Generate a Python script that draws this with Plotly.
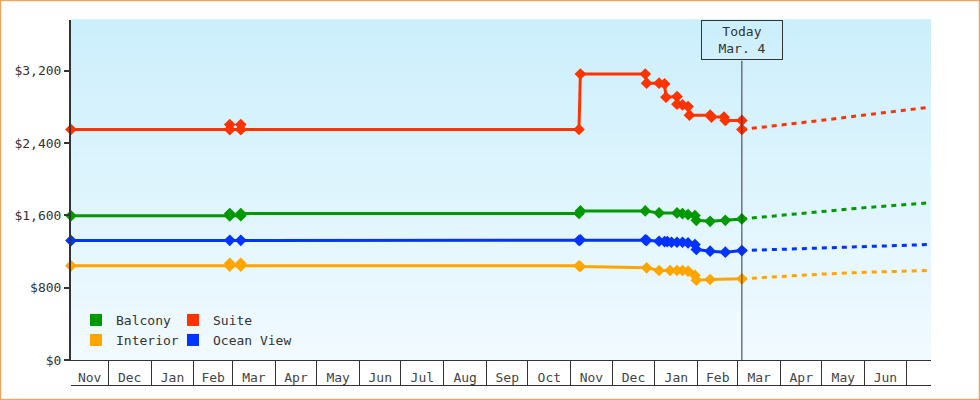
import plotly.graph_objects as go
import pandas as pd

# fares seen so far (a date repeats where the fare moved on that day)
suite_dates = ["2022-11-04", "2023-02-27", "2023-02-27", "2023-02-27", "2023-03-07", "2023-03-07", "2023-03-07",
               "2023-11-07", "2023-11-08", "2023-12-25", "2023-12-26", "2024-01-04", "2024-01-08", "2024-01-09",
               "2024-01-17", "2024-01-17", "2024-01-21", "2024-01-25", "2024-01-26", "2024-02-10", "2024-02-11",
               "2024-02-20", "2024-02-21", "2024-03-04", "2024-03-04"]
suite_prices = [2549, 2549, 2604, 2549, 2549, 2604, 2549,
                2549, 3163, 3163, 3061, 3061, 3053, 2906,
                2913, 2829, 2821, 2803, 2708, 2708, 2686,
                2686, 2649, 2649, 2549]

balcony_dates = ["2022-11-04", "2023-02-27", "2023-02-27", "2023-02-27", "2023-03-07", "2023-03-07",
                 "2023-11-07", "2023-11-08", "2023-12-25", "2024-01-04", "2024-01-17", "2024-01-21",
                 "2024-01-25", "2024-01-30", "2024-01-31", "2024-02-10", "2024-02-21", "2024-03-04"]
balcony_prices = [1595, 1595, 1620, 1595, 1595, 1620,
                  1620, 1649, 1649, 1626, 1626, 1619,
                  1608, 1597, 1545, 1534, 1545, 1560]

ocean_dates = ["2022-11-04", "2023-02-27", "2023-03-07", "2023-11-07", "2023-11-08", "2023-12-25", "2023-12-26",
               "2024-01-04", "2024-01-08", "2024-01-10", "2024-01-13", "2024-01-17", "2024-01-21", "2024-01-25",
               "2024-01-30", "2024-01-31", "2024-02-10", "2024-02-21", "2024-03-04"]
ocean_prices = [1321, 1324, 1324, 1324, 1329, 1329, 1324,
                1313, 1310, 1310, 1302, 1302, 1302, 1295,
                1277, 1222, 1203, 1192, 1210]

interior_dates = ["2022-11-04", "2023-02-27", "2023-02-27", "2023-02-27", "2023-03-07", "2023-03-07", "2023-03-07",
                  "2023-11-07", "2023-11-08", "2023-12-26", "2024-01-04", "2024-01-12", "2024-01-17", "2024-01-21",
                  "2024-01-25", "2024-01-30", "2024-01-31", "2024-02-10", "2024-03-04"]
interior_prices = [1041, 1041, 1070, 1041, 1041, 1070, 1041,
                   1041, 1034, 1019, 990, 990, 990, 990,
                   982, 935, 883, 890, 898]

# predicted fares from today on
forecast_dates = ["2024-03-04", "2024-04-01", "2024-05-01", "2024-06-01", "2024-07-17"]
suite_forecast = [2549, 2596, 2651, 2709, 2794]
balcony_forecast = [1560, 1600, 1640, 1685, 1737]
ocean_forecast = [1210, 1225, 1240, 1260, 1277]
interior_forecast = [898, 925, 950, 970, 990]

today = "2024-03-04"
today_label = "Today<br>Mar. 4"
x_start, x_end = pd.Timestamp("2022-11-04"), pd.Timestamp("2024-07-19")
price_ticks = [0, 800, 1600, 2400, 3200]
price_labels = ["$0", "$800", "$1,600", "$2,400", "$3,200"]

AXIS = "#333333"
FONT = "DejaVu Sans Mono"

series = [
    ("Interior", interior_dates, interior_prices, interior_forecast, "#ffa500"),
    ("Ocean View", ocean_dates, ocean_prices, ocean_forecast, "#0033ff"),
    ("Balcony", balcony_dates, balcony_prices, balcony_forecast, "#009900"),
    ("Suite", suite_dates, suite_prices, suite_forecast, "#ff3300"),
]
colors = {s[0]: s[4] for s in series}

fig = go.Figure()
for name, dates, prices, fc, color in series:
    fig.add_trace(go.Scatter(x=dates, y=prices, mode="lines+markers", name=name,
                             line=dict(color=color, width=3),
                             marker=dict(symbol="diamond", size=9, color=color),
                             cliponaxis=False, showlegend=False))
    fig.add_trace(go.Scatter(x=forecast_dates, y=fc, mode="lines", name=name + " forecast",
                             line=dict(color=color, width=3, dash="5px,5px"), showlegend=False))

# legend swatches: one small legend per entry, laid out in two rows
legend_slots = {"Balcony": ("legend", 5, 305), "Suite": ("legend2", 102, 305),
                "Interior": ("legend3", 5, 325), "Ocean View": ("legend4", 102, 325)}
legend_layout = {}
for name, (leg, lx, ly) in legend_slots.items():
    fig.add_trace(go.Scatter(x=[None], y=[None], mode="markers", name=name, legend=leg,
                             marker=dict(symbol="square", size=12, color=colors[name])))
    legend_layout[leg] = dict(x=lx / 860, y=(385 - ly) / 365, xanchor="left", yanchor="top",
                              bgcolor="rgba(0,0,0,0)", font=dict(size=13), itemwidth=30)

# month cells below the plot
month_starts = pd.date_range("2022-11-01", "2024-07-01", freq="MS")
label_months = month_starts[:-1]  # the July cell is too narrow for a label
label_pos = []
for m in label_months:
    a = max(m, x_start)
    b = min(m + pd.offsets.MonthBegin(1), x_end)
    label_pos.append(a + (b - a) / 2)
fig.add_trace(go.Scatter(x=[x_start], y=[None], xaxis="x2", showlegend=False, hoverinfo="skip"))

# soft vertical gradient behind the plot
top_c, bot_c = (204, 239, 252), (241, 250, 255)
n = 40
shapes = []
for i in range(n):
    t = i / (n - 1)
    c = tuple(round(bot_c[k] + (top_c[k] - bot_c[k]) * t) for k in range(3))
    shapes.append(dict(type="rect", xref="x domain", yref="y domain", x0=0, x1=1,
                       y0=i / n, y1=(i + 1) / n + 0.002, fillcolor="rgb(%d,%d,%d)" % c,
                       line=dict(width=0), layer="below"))
shapes.append(dict(type="line", xref="x", yref="y domain", x0=today, x1=today, y0=0, y1=0.88,
                   line=dict(color=AXIS, width=1)))
# outer frame
shapes.append(dict(type="rect", xref="paper", yref="paper",
                   x0=-70.5 / 860, x1=908.5 / 860, y0=-14.5 / 365, y1=384.5 / 365,
                   line=dict(color="#e8a864", width=1.5), fillcolor="rgba(0,0,0,0)", layer="below"))

fig.update_layout(
    width=980, height=400,
    margin=dict(l=71, r=49, t=20, b=15),
    paper_bgcolor="white", plot_bgcolor="rgba(0,0,0,0)",
    font=dict(family=FONT, size=13, color=AXIS),
    shapes=shapes,
    xaxis=dict(type="date", range=[x_start, x_end], showgrid=False, zeroline=False,
               showline=True, linecolor=AXIS, linewidth=1, automargin=False,
               ticks="outside", ticklen=25, tickwidth=1, tickcolor=AXIS,
               tickvals=list(month_starts[1:]), showticklabels=False),
    xaxis2=dict(type="date", overlaying="x", matches="x", anchor="free", position=0, side="bottom",
                showgrid=False, zeroline=False, showline=True, linecolor=AXIS, linewidth=1,
                automargin=False, ticks="", tickvals=label_pos,
                ticktext=[m.strftime("%b") for m in label_months],
                ticklabelposition="inside", ticklabelstandoff=0),
    yaxis=dict(domain=[25 / 365, 1], range=[0, 3760], tickvals=price_ticks, ticktext=price_labels,
               showgrid=False, zeroline=False, automargin=False,
               showline=True, linecolor=AXIS, linewidth=2,
               ticks="outside", ticklen=5, tickwidth=2, tickcolor=AXIS),
    annotations=[dict(x=today, xref="x", y=1, yref="paper", yanchor="top", text=today_label,
                      showarrow=False, bordercolor=AXIS, borderwidth=1, borderpad=3, width=74,
                      font=dict(size=13, color=AXIS))],
    showlegend=True,
    **legend_layout,
)

fig.write_html("out.html", config={"displayModeBar": False},
               post_script="document.body.style.margin='0px';")
